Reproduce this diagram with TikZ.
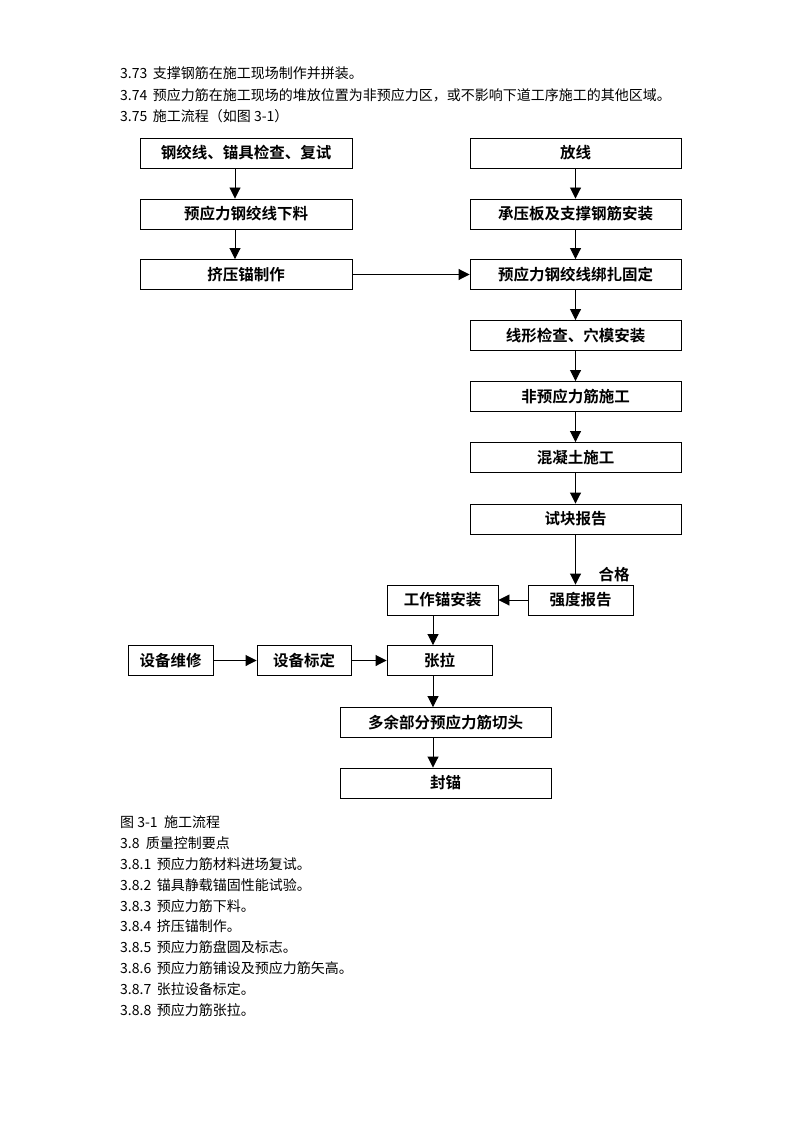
\documentclass[tikz,border=0pt]{standalone}
\usepackage{fontspec}
\setmainfont{Noto Sans CJK SC}
\newfontfamily\cjkb{Noto Sans CJK SC Bold}
\usetikzlibrary{arrows.meta}
\begin{document}
\begin{tikzpicture}[x=1pt,y=-1pt,
  box/.style={draw,line width=0.9pt,minimum height=30pt,inner sep=0pt,font=\cjkb\fontsize{15.5}{17}\selectfont},
  flow/.style={line width=0.9pt,-{Triangle[length=11pt,width=11pt]}},
  body/.style={anchor=west,inner sep=0pt,font=\fontsize{14}{16}\selectfont}]
\useasboundingbox (0,0) rectangle (794,1123);
% body text
\node[body] (t1) at (120,73) {3.73\ \,支撑钢筋在施工现场制作并拼装。};
\node[body] (t2) at (120,95) {3.74\ \,预应力筋在施工现场的堆放位置为非预应力区，或不影响下道工序施工的其他区域。};
\node[body] (t3) at (120,116) {3.75\ \,施工流程（如图 3-1）};
% left column
\node[box,minimum width=212pt] (L1) at (246,153) {钢绞线、锚具检查、复试};
\node[box,minimum width=212pt] (L2) at (246,214) {预应力钢绞线下料};
\node[box,minimum width=212pt] (L3) at (246,274.5) {挤压锚制作};
\coordinate (ax) at (235,0);
% right column
\node[box,minimum width=211pt] (R1) at (575.5,153) {放线};
\node[box,minimum width=211pt] (R2) at (575.5,214) {承压板及支撑钢筋安装};
\node[box,minimum width=211pt] (R3) at (575.5,274.5) {预应力钢绞线绑扎固定};
\node[box,minimum width=211pt] (R4) at (575.5,335.5) {线形检查、穴模安装};
\node[box,minimum width=211pt] (R5) at (575.5,396.5) {非预应力筋施工};
\node[box,minimum width=211pt] (R6) at (575.5,457.5) {混凝土施工};
\node[box,minimum width=211pt] (R7) at (575.5,519) {试块报告};
\node[box,minimum width=105pt] (S) at (580.5,600) {强度报告};
\node[inner sep=0pt,font=\cjkb\fontsize{15.5}{17}\selectfont] (ok) at (614,575) {合格};
\node[box,minimum width=111pt] (W) at (442.5,600) {工作锚安装};
\node[box,minimum width=105pt] (Z) at (439.5,660.5) {张拉};
\node[box,minimum width=85pt] (M1) at (170.5,660.5) {设备维修};
\node[box,minimum width=94pt] (M2) at (304,660.5) {设备标定};
\node[box,minimum width=211pt] (C) at (445.5,722.5) {多余部分预应力筋切头};
\node[box,minimum width=211pt] (F) at (445.5,783) {封锚};
\coordinate (bx) at (433,0);
% connectors
\draw[flow] (L1.south -| ax) -- (L2.north -| ax);
\draw[flow] (L2.south -| ax) -- (L3.north -| ax);
\draw[flow] (L3.east) -- (R3.west);
\draw[flow] (R1) -- (R2);
\draw[flow] (R2) -- (R3);
\draw[flow] (R3) -- (R4);
\draw[flow] (R4) -- (R5);
\draw[flow] (R5) -- (R6);
\draw[flow] (R6) -- (R7);
\draw[flow] (R7.south) -- (S.north -| R7.south);
\draw[flow] (S.west) -- (W.east);
\draw[flow] (W.south -| bx) -- (Z.north -| bx);
\draw[flow] (M1) -- (M2);
\draw[flow] (M2) -- (Z);
\draw[flow] (Z.south -| bx) -- (C.north -| bx);
\draw[flow] (C.south -| bx) -- (F.north -| bx);
% bottom text
\node[body] (b0) at (120,822) {图 3-1\ \ 施工流程};
\node[body] (b1) at (120,843) {3.8\ \ 质量控制要点};
\node[body] (b2) at (120,864) {3.8.1\ \,预应力筋材料进场复试。};
\node[body] (b3) at (120,885) {3.8.2\ \,锚具静载锚固性能试验。};
\node[body] (b4) at (120,906) {3.8.3\ \,预应力筋下料。};
\node[body] (b5) at (120,926) {3.8.4\ \,挤压锚制作。};
\node[body] (b6) at (120,947) {3.8.5\ \,预应力筋盘圆及标志。};
\node[body] (b7) at (120,968) {3.8.6\ \,预应力筋铺设及预应力筋矢高。};
\node[body] (b8) at (120,989) {3.8.7\ \,张拉设备标定。};
\node[body] (b9) at (120,1010) {3.8.8\ \,预应力筋张拉。};
\end{tikzpicture}
\end{document}
